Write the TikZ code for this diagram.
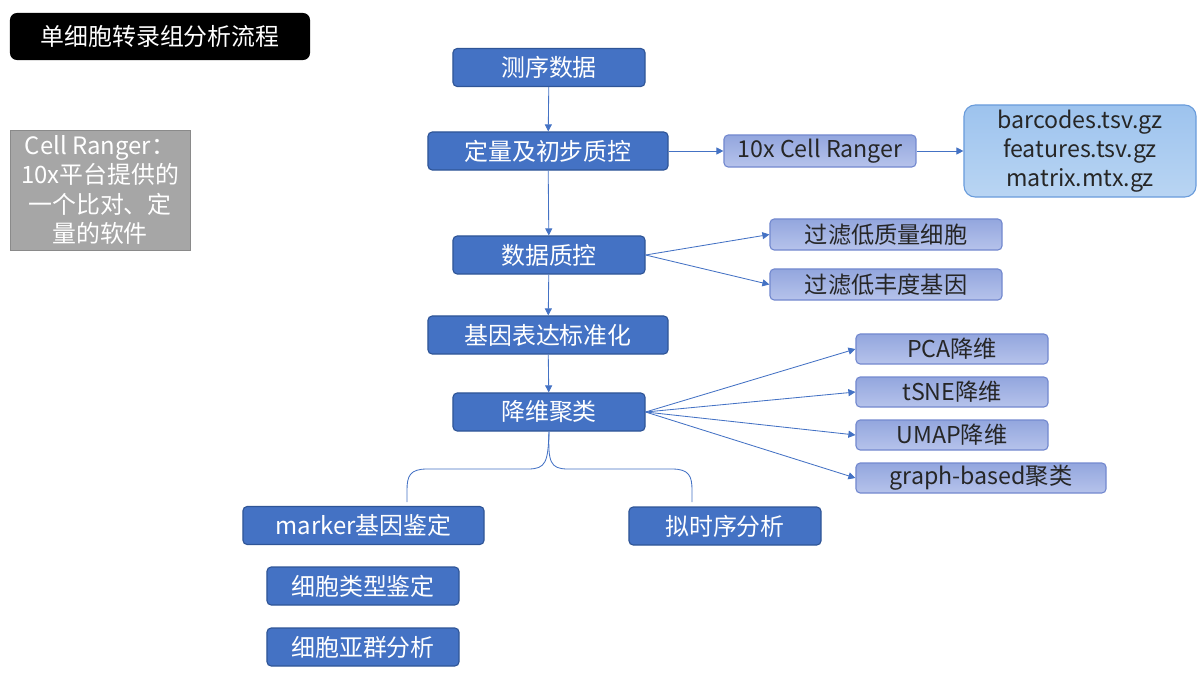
\documentclass[tikz,border=0pt]{standalone}
\usepackage{fontspec}
\setmainfont{Noto Sans CJK SC}
\usetikzlibrary{arrows.meta}
\definecolor{mainblue}{HTML}{4472C4}
\definecolor{mainedge}{HTML}{2F5597}
\definecolor{lighttop}{HTML}{93A6DE}
\definecolor{lightbot}{HTML}{B6C3EB}
\definecolor{lightedge}{HTML}{7389CF}
\definecolor{filetop}{HTML}{9DC3EE}
\definecolor{filebot}{HTML}{B9D5F3}
\definecolor{fileedge}{HTML}{6A9CDB}
\definecolor{noteback}{HTML}{A6A6A6}
\definecolor{noteedge}{HTML}{8A8A8A}
\begin{document}
\begin{tikzpicture}[x=0.025cm, y=-0.025cm,
  stepbox/.style={draw=mainedge, line width=0.8pt, fill=mainblue,
    rounded corners=3pt, text=white, inner sep=0pt,
    font=\fontsize{17}{20}\selectfont, minimum height=0.95cm},
  subbox/.style={draw=lightedge, line width=0.8pt, top color=lighttop,
    bottom color=lightbot, rounded corners=3pt, text=black!85, inner sep=0pt,
    font=\fontsize{16.5}{19}\selectfont, minimum height=0.75cm},
  link/.style={draw=mainblue, line width=0.6pt},
  arrow/.style={link, -{Triangle[length=5pt,width=5pt]}}]
\useasboundingbox (0,0) rectangle (1200,676);
% title and note
\node (title) [fill=black, rounded corners=5pt, text=white, inner sep=0pt,
  minimum width=7.5cm, minimum height=1.175cm,
  font=\fontsize{17}{20}\selectfont] at (160,36.5) {单细胞转录组分析流程};
\node (note) [draw=noteedge, fill=noteback, text=white, inner sep=0pt,
  minimum width=4.5cm, minimum height=3cm, align=center,
  font=\fontsize{17}{21}\selectfont] at (100,190)
  {Cell Ranger：\\10x平台提供的\\一个比对、定\\量的软件};
% main flow
\node (seq) [stepbox, minimum width=4.8cm] at (549,67.5) {测序数据};
\node (quant) [stepbox, minimum width=6cm] at (548,151) {定量及初步质控};
\node (qc) [stepbox, minimum width=4.8cm] at (549,255) {数据质控};
\node (norm) [stepbox, minimum width=6cm] at (548,335) {基因表达标准化};
\node (dimred) [stepbox, minimum width=4.8cm] at (549,412) {降维聚类};
\node (marker) [stepbox, minimum width=6.025cm] at (363.5,525.5) {marker基因鉴定};
\node (pseudo) [stepbox, minimum width=4.8cm] at (725,526) {拟时序分析};
\node (celltype) [stepbox, minimum width=4.8cm] at (363,586) {细胞类型鉴定};
\node (subclust) [stepbox, minimum width=4.8cm] at (363,647) {细胞亚群分析};
% side boxes
\node (ranger) [subbox, minimum width=4.8cm, minimum height=0.8cm] at (820,151) {10x Cell Ranger};
\node (files) [draw=fileedge, line width=0.8pt, top color=filetop,
  bottom color=filebot, rounded corners=8pt, text=black!85, inner sep=0pt,
  minimum width=5.8cm, minimum height=2.3cm, align=center,
  font=\fontsize{16.5}{20.5}\selectfont] at (1080,151)
  {barcodes.tsv.gz\\features.tsv.gz\\matrix.mtx.gz};
\node (lowcell) [subbox, minimum width=5.8cm, minimum height=0.775cm] at (886,234.5) {过滤低质量细胞};
\node (lowgene) [subbox, minimum width=5.8cm, minimum height=0.775cm] at (886,284.5) {过滤低丰度基因};
\node (pca) [subbox, minimum width=4.8cm] at (952,349) {PCA降维};
\node (tsne) [subbox, minimum width=4.8cm] at (952,392) {tSNE降维};
\node (umap) [subbox, minimum width=4.8cm] at (952,435) {UMAP降维};
\node (graph) [subbox, minimum width=6.25cm] at (981,478) {graph-based聚类};
% connectors
\draw[arrow] (seq) -- (quant);
\draw[arrow] (quant) -- (qc);
\draw[arrow] (qc) -- (norm);
\draw[arrow] (norm) -- (dimred);
\draw[arrow] (quant) -- (ranger);
\draw[arrow] (ranger) -- (files);
\draw[arrow] (qc.east) -- (lowcell.west);
\draw[arrow] (qc.east) -- (lowgene.west);
\draw[arrow] (dimred.east) -- (pca.west);
\draw[arrow] (dimred.east) -- (tsne.west);
\draw[arrow] (dimred.east) -- (umap.west);
\draw[arrow] (dimred.east) -- (graph.west);
% brace
\coordinate (braceleft) at (407,502);
\coordinate (braceright) at (692,502);
\draw[link] (dimred.south) .. controls (548,462) and (546,469) .. (528,469)
  -- (427,469) .. controls (410,469) and (407,476) .. (407,490) -- (braceleft);
\draw[link] (dimred.south) .. controls (548,462) and (550,469) .. (568,469)
  -- (672,469) .. controls (689,469) and (692,476) .. (692,490) -- (braceright);
\end{tikzpicture}
\end{document}
